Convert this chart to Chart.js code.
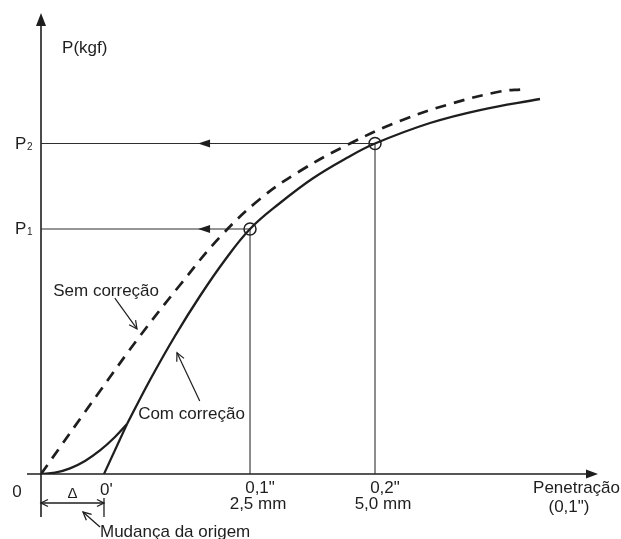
<!DOCTYPE html>
<html>
<head>
<meta charset="utf-8">
<script src="https://cdn.jsdelivr.net/npm/chart.js@4"></script>
<style>
html, body { margin: 0; padding: 0; background: #fff; }
canvas { display: block; }
</style>
</head>
<body>
<canvas id="cbr" width="621" height="539"></canvas>
<script>
// penetração (unidades arbitrárias, 0 = origem original) x carga P (unidades arbitrárias)
// curva corrigida: trecho inicial côncavo até o ponto de tangência, depois o trecho principal
var comIniX = [0, 2.52, 5.23, 7.93, 10.63, 13.33, 15.50];
var comIniY = [0, 0.29, 1.24, 2.85, 5.13, 8.06, 10.89];
var comX = [15.50, 19.64, 24.14, 28.65, 33.15, 37.66, 43.06, 49.01, 55.14, 60.18, 70.09, 79.10, 89.91];
var comY = [10.89, 20.48, 30.07, 38.78, 46.62, 53.38, 59.04, 64.44, 68.89, 72.00, 76.47, 79.30, 81.70];
var semX = [0, 10.63, 17.84, 25.05, 32.25, 39.46, 46.67, 55.68, 64.68, 73.69, 82.70, 86.85];
var semY = [0, 18.08, 30.07, 41.18, 51.63, 59.91, 66.01, 72.00, 76.91, 80.61, 83.33, 83.80];
// tangente que define a nova origem 0'
var tangX = [11.35, 15.50];
var tangY = [0, 10.89];
// leituras em 0,1" e 0,2"
var leituraX = [37.66, 60.18];
var leituraY = [53.38, 72.00];
var xLabels = [['0,1"', '2,5 mm'], ['0,2"', '5,0 mm']];
var yLabels = ['1', '2'];

var INK = '#1e1e1e';
var FONT = '"Liberation Sans", Arial, sans-serif';

function pts(xs, ys) {
  return xs.map(function (v, i) { return {x: v, y: ys[i]}; });
}

function seta(ctx, x0, y0, x1, y1, len, half, cheia) {
  var a = Math.atan2(y1 - y0, x1 - x0);
  var bx = x1 - len * Math.cos(a), by = y1 - len * Math.sin(a);
  var nx = -Math.sin(a) * half, ny = Math.cos(a) * half;
  ctx.beginPath();
  if (cheia) {
    ctx.moveTo(x1, y1); ctx.lineTo(bx + nx, by + ny); ctx.lineTo(bx - nx, by - ny);
    ctx.closePath(); ctx.fill();
  } else {
    ctx.moveTo(bx + nx, by + ny); ctx.lineTo(x1, y1); ctx.lineTo(bx - nx, by - ny);
    ctx.stroke();
  }
}

function linha(ctx, x0, y0, x1, y1) {
  ctx.beginPath(); ctx.moveTo(x0, y0); ctx.lineTo(x1, y1); ctx.stroke();
}

var eixos = {
  id: 'eixos',
  beforeDatasetsDraw: function (chart) {
    var ctx = chart.ctx, ca = chart.chartArea;
    var x = chart.scales.x, y = chart.scales.y;
    var ox = x.getPixelForValue(0), oy = y.getPixelForValue(0);
    ctx.save();
    ctx.strokeStyle = INK; ctx.fillStyle = INK; ctx.lineWidth = 1.6;
    linha(ctx, ox, ca.top + 6, ox, oy + 43);
    seta(ctx, ox, ca.top + 20, ox, ca.top - 2, 13, 5, true);
    linha(ctx, ox - 14, oy, ca.right - 6, oy);
    seta(ctx, ca.right - 20, oy, ca.right + 2, oy, 12, 4.5, true);
    ctx.restore();
  }
};

var anotacoes = {
  id: 'anotacoes',
  afterDatasetsDraw: function (chart) {
    var ctx = chart.ctx;
    var x = chart.scales.x, y = chart.scales.y;
    var px = function (v) { return x.getPixelForValue(v); };
    var py = function (v) { return y.getPixelForValue(v); };
    var ox = px(0), oy = py(0), o2 = px(tangX[0]);
    ctx.save();
    ctx.strokeStyle = INK; ctx.fillStyle = INK;

    // setas nas linhas de leitura P1, P2
    leituraY.forEach(function (v) {
      seta(ctx, px(34), py(v), px(28.3), py(v), 12, 4, true);
    });

    // setas das legendas
    ctx.lineWidth = 1.2;
    linha(ctx, px(13.3), py(38.3), px(17.3), py(31.6));
    seta(ctx, px(13.3), py(38.3), px(17.3), py(31.6), 8, 4, false);
    linha(ctx, px(28.6), py(15.9), px(24.5), py(26.4));
    seta(ctx, px(28.6), py(15.9), px(24.5), py(26.4), 8, 4, false);

    // cota delta
    ctx.lineWidth = 1.3;
    linha(ctx, o2, oy + 24, o2, oy + 43);
    linha(ctx, ox, oy + 29, o2, oy + 29);
    seta(ctx, o2, oy + 29, ox, oy + 29, 7, 3.5, false);
    seta(ctx, ox, oy + 29, o2, oy + 29, 7, 3.5, false);
    linha(ctx, o2 - 4, oy + 53, o2 - 21, oy + 38);
    seta(ctx, o2 - 4, oy + 53, o2 - 21, oy + 38, 8, 4, false);

    // textos
    ctx.font = '17px ' + FONT;
    ctx.textBaseline = 'alphabetic';
    ctx.textAlign = 'left';
    ctx.fillText('P(kgf)', px(3.8), py(91.7));
    ctx.fillText('Sem correção', px(2.2), py(38.8));
    ctx.fillText('Com correção', px(17.5), py(12.0));
    ctx.fillText('Mudança da origem', o2 - 4, oy + 63);
    ctx.fillText("0'", o2 - 4, oy + 21);

    leituraY.forEach(function (v, i) {
      ctx.font = '17px ' + FONT;
      ctx.textAlign = 'left';
      ctx.fillText('P', ox - 26, py(v) + 5);
      ctx.font = '10px ' + FONT;
      ctx.fillText(yLabels[i], ox - 14, py(v) + 6);
    });

    ctx.font = '17px ' + FONT;
    ctx.textAlign = 'center';
    ctx.fillText('0', ox - 24, oy + 23);
    leituraX.forEach(function (v, i) {
      ctx.fillText(xLabels[i][0], px(v) + 10, oy + 19);
      ctx.fillText(xLabels[i][1], px(v) + 8, oy + 35);
    });
    ctx.font = '15px ' + FONT;
    ctx.fillText('Δ', (ox + o2) / 2, oy + 24);
    ctx.font = '17px ' + FONT;
    ctx.textAlign = 'right';
    ctx.fillText('Penetração', 620, oy + 19);
    ctx.textAlign = 'center';
    ctx.fillText('(0,1")', 569, oy + 38);
    ctx.restore();
  }
};

var refs = [];
leituraX.forEach(function (v, i) {
  refs.push([{x: v, y: 0}, {x: v, y: leituraY[i]}]);
  refs.push([{x: 0, y: leituraY[i]}, {x: v, y: leituraY[i]}]);
});
refs = refs.map(function (d) {
  return {
    data: d, showLine: true, borderColor: '#2e2e2e', borderWidth: 1.1,
    pointRadius: 0, tension: 0
  };
});

new Chart(document.getElementById('cbr'), {
  type: 'scatter',
  data: {
    datasets: [
      {
        label: 'Com correção (início)', data: pts(comIniX, comIniY), showLine: true,
        borderColor: INK, borderWidth: 2.3, pointRadius: 0, tension: 0.4
      },
      {
        label: 'Com correção', data: pts(comX, comY), showLine: true,
        borderColor: INK, borderWidth: 2.3, pointRadius: 0, tension: 0.4
      },
      {
        label: 'Sem correção', data: pts(semX, semY), showLine: true,
        borderColor: INK, borderWidth: 2.7, borderDash: [11, 8], pointRadius: 0,
        tension: 0.4
      },
      {
        label: 'Tangente', data: pts(tangX, tangY), showLine: true,
        borderColor: INK, borderWidth: 2.2, pointRadius: 0
      }
    ].concat(refs).concat([
      {
        label: 'Leituras', data: pts(leituraX, leituraY), showLine: false,
        pointRadius: 6, pointBorderWidth: 1.5, pointBorderColor: INK,
        pointBackgroundColor: 'rgba(0,0,0,0)'
      }
    ])
  },
  options: {
    responsive: false,
    animation: false,
    layout: {padding: {left: 41, right: 25, top: 15, bottom: 65}},
    plugins: {legend: {display: false}, tooltip: {enabled: false}},
    scales: {
      x: {type: 'linear', min: 0, max: 100, display: false},
      y: {type: 'linear', min: 0, max: 100, display: false}
    }
  },
  plugins: [eixos, anotacoes]
});
</script>
</body>
</html>
